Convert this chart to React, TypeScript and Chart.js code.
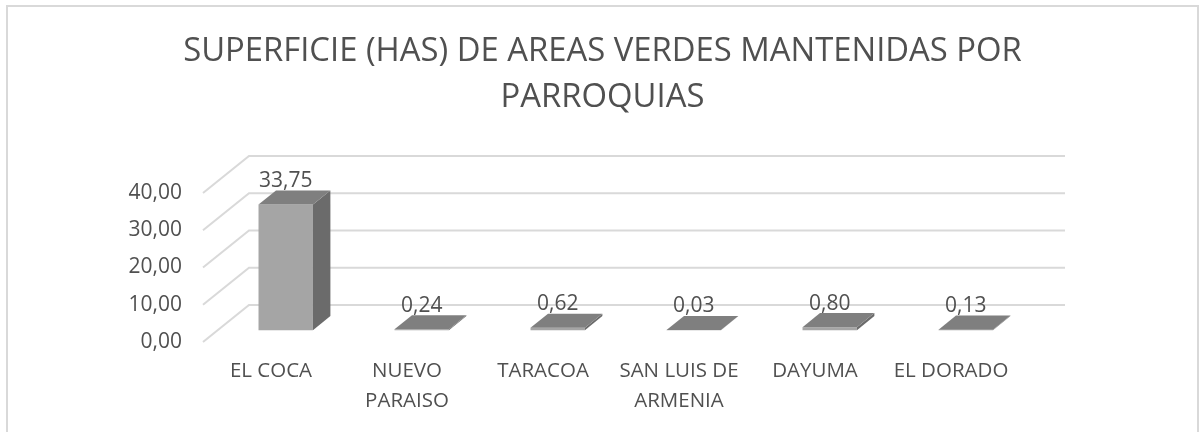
import React, { useEffect, useRef } from "react";
import { Chart, registerables } from "chart.js";

Chart.register(...registerables);

// ---- data ----
const categories: string[][] = [
  ["EL COCA"],
  ["NUEVO", "PARAISO"],
  ["TARACOA"],
  ["SAN LUIS DE", "ARMENIA"],
  ["DAYUMA"],
  ["EL DORADO"],
];
const superficieHas: number[] = [33.75, 0.24, 0.62, 0.03, 0.8, 0.13];
const yTicks: number[] = [0, 10, 20, 30, 40];
const titleLines: string[] = [
  "SUPERFICIE (HAS) DE AREAS VERDES MANTENIDAS POR",
  "PARROQUIAS",
];

// ---- style ----
const FONT = "'Open Sans', sans-serif";
const TEXT = "#505050";
const GRID = "#d9d9d9";
const FRONT = "#a5a5a5";
const SIDE = "#6b6b6b";
const TOP = "#7f7f7f";
const DEPTH_X = 46;
const DEPTH_Y = 37;
const BAR_FRONT = 0.32;
const BAR_BACK = 0.7;

const fmt = (v: number) => v.toFixed(2).replace(".", ",");

const excel3d = {
  id: "excel3d",
  beforeDraw(chart: any) {
    const ctx = chart.ctx;
    ctx.save();
    ctx.fillStyle = "#ffffff";
    ctx.fillRect(0, 0, chart.width, chart.height);
    ctx.strokeStyle = GRID;
    ctx.lineWidth = 2;
    ctx.strokeRect(7, 6, chart.width - 10, chart.height + 20);
    ctx.restore();
  },
  beforeDatasetsDraw(chart: any) {
    const { ctx, chartArea, scales } = chart;
    const y = scales.y;
    ctx.save();
    ctx.strokeStyle = GRID;
    ctx.lineWidth = 2;
    y.ticks.forEach((t: any) => {
      const py = y.getPixelForValue(t.value);
      ctx.beginPath();
      ctx.moveTo(chartArea.left, py);
      ctx.lineTo(chartArea.left + DEPTH_X, py - DEPTH_Y);
      ctx.lineTo(chartArea.right + DEPTH_X, py - DEPTH_Y);
      ctx.stroke();
    });
    ctx.restore();
    ctx.save();
    ctx.translate(DEPTH_X * BAR_FRONT, -DEPTH_Y * BAR_FRONT);
  },
  afterDatasetsDraw(chart: any) {
    const ctx = chart.ctx;
    ctx.restore();
    const meta = chart.getDatasetMeta(0);
    const ox = DEPTH_X * BAR_FRONT;
    const oy = DEPTH_Y * BAR_FRONT;
    const bx = DEPTH_X * (BAR_BACK - BAR_FRONT);
    const by = DEPTH_Y * (BAR_BACK - BAR_FRONT);
    const values = chart.data.datasets[0].data as number[];
    meta.data.forEach((el: any, i: number) => {
      const p = el.getProps(["x", "y", "base", "width"], true);
      const left = p.x - p.width / 2 + ox;
      const right = p.x + p.width / 2 + ox;
      const top = Math.min(p.y, p.base) - oy;
      const bottom = Math.max(p.y, p.base) - oy;
      ctx.save();
      // side face
      ctx.fillStyle = SIDE;
      ctx.beginPath();
      ctx.moveTo(right, top);
      ctx.lineTo(right + bx, top - by);
      ctx.lineTo(right + bx, bottom - by);
      ctx.lineTo(right, bottom);
      ctx.closePath();
      ctx.fill();
      // top face
      ctx.fillStyle = TOP;
      ctx.beginPath();
      ctx.moveTo(left, top);
      ctx.lineTo(left + bx, top - by);
      ctx.lineTo(right + bx, top - by);
      ctx.lineTo(right, top);
      ctx.closePath();
      ctx.fill();
      // data label
      ctx.fillStyle = TEXT;
      ctx.font = `21px ${FONT}`;
      ctx.textAlign = "center";
      ctx.textBaseline = "middle";
      ctx.fillText(fmt(values[i]), p.x + ox, top - by - 9.5);
      ctx.restore();
    });
  },
};

export default function App() {
  const ref = useRef<HTMLCanvasElement | null>(null);
  useEffect(() => {
    document.body.style.margin = "0";
    if (!ref.current) return;
    const chart = new Chart(ref.current, {
      type: "bar",
      data: {
        labels: categories,
        datasets: [
          {
            data: superficieHas,
            backgroundColor: FRONT,
            borderWidth: 0,
            categoryPercentage: 1,
            barPercentage: 0.4,
            clip: false as any,
          },
        ],
      },
      options: {
        animation: false,
        responsive: false,
        layout: { padding: { left: 4, right: 0, top: 0, bottom: 0 } },
        plugins: {
          legend: { display: false },
          tooltip: { enabled: false },
          title: {
            display: true,
            text: titleLines,
            color: TEXT,
            font: { family: FONT, size: 32.8, weight: "normal", lineHeight: 46 / 32.8 },
            padding: { top: 28.5, bottom: 72.5 },
          },
        },
        scales: {
          x: {
            grid: { display: false, drawTicks: false },
            border: { display: false },
            ticks: {
              color: TEXT,
              font: { family: FONT, size: 20.5, lineHeight: 30 / 20.5 },
              padding: 14,
              maxRotation: 0,
              autoSkip: false,
            },
            afterFit: (s: any) => {
              s.height = 90;
            },
          },
          y: {
            min: yTicks[0],
            max: yTicks[yTicks.length - 1],
            grid: { display: false, drawTicks: false },
            border: { display: false },
            ticks: {
              stepSize: yTicks[1] - yTicks[0],
              color: TEXT,
              font: { family: FONT, size: 21 },
              padding: 21,
              callback: (v: any) => fmt(Number(v)),
            },
            afterFit: (s: any) => {
              s.width = 199;
            },
          },
          yRight: {
            position: "right",
            grid: { display: false, drawTicks: false },
            border: { display: false },
            ticks: { display: false },
            afterFit: (s: any) => {
              s.width = 182;
            },
          },
        },
      },
      plugins: [excel3d],
    });
    return () => chart.destroy();
  }, []);
  return (
    <div style={{ width: 1201, height: 432 }}>
      <canvas ref={ref} width={1201} height={432} style={{ display: "block" }} />
    </div>
  );
}
